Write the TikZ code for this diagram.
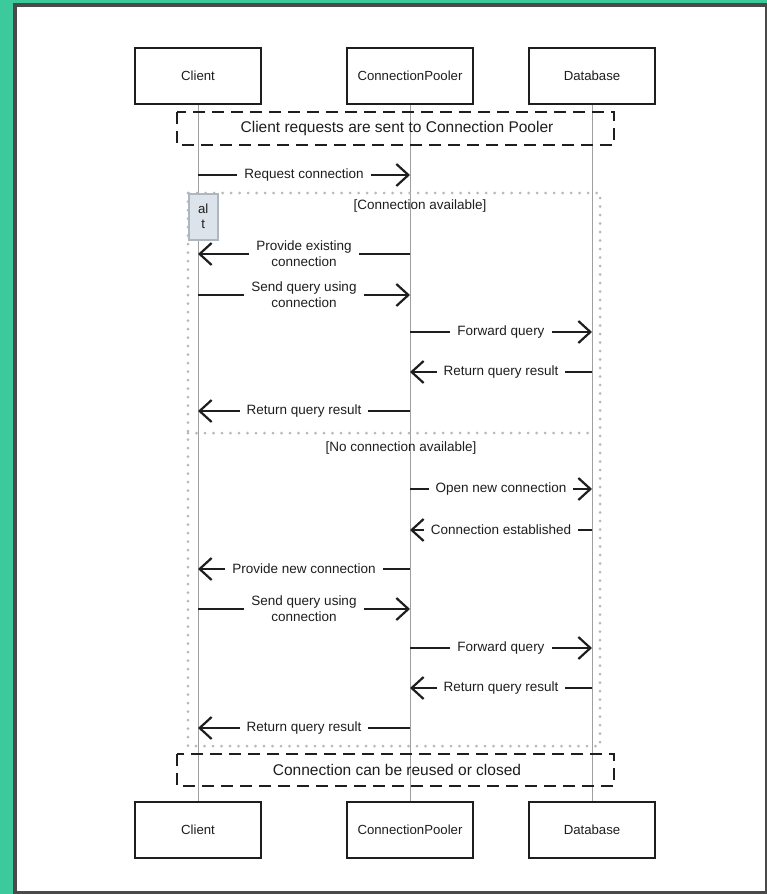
\documentclass[tikz,border=0pt]{standalone}
\usepackage{fontspec}
\setmainfont{Liberation Sans}
\usetikzlibrary{arrows.meta,
                positioning
            }
\definecolor{framegreen}{HTML}{3CC99B}
\definecolor{framegray}{HTML}{4A4A4A}
\definecolor{ink}{HTML}{1E1E1E}
\definecolor{altfill}{HTML}{DDE3EA}
\definecolor{altline}{HTML}{AEB6BF}
\definecolor{dotgray}{HTML}{B8B8B8}

\begin{document}
\begin{tikzpicture}[x=1pt, y=-1pt,
    font=\fontsize{13.2}{15}\selectfont,
    actor/.style={draw=ink, line width=2pt, minimum width=126pt, minimum height=56pt, text=ink},
    lifeline/.style={draw=gray!75, line width=0.8pt},
    notebox/.style={draw=ink, line width=2.4pt, dash pattern=on 12pt off 7pt},
    msg/.style={draw=ink, line width=2.6pt, -{Straight Barb[length=12pt, width=22pt, line width=2.2pt]}},
    msglabel/.style={fill=white, text=ink, inner xsep=7pt, inner ysep=1pt, align=center, font=\fontsize{13.5}{16}\selectfont},
    altframe/.style={draw=dotgray, line width=3pt, line cap=round, dash pattern=on 0pt off 8.5pt}
  ]
                % Frame
                \fill[framegreen] (0,0) rectangle (767,894);
                \fill[framegray] (13,3) rectangle (767,894);
                \fill[white] (17,7) rectangle (765,891);

                % Participants (top)
                \node (client) [actor] at (198,76) {Client};
                \node (pooler) [actor, right=84pt of client] {ConnectionPooler};
                \node (db) [actor, right=54pt of pooler] {Database};

                % Participants (bottom)
                \node (clientB) [actor, below=696pt of client] {Client};
                \node (poolerB) [actor, below=696pt of pooler] {ConnectionPooler};
                \node (dbB) [actor, below=696pt of db] {Database};

                % Lifelines
                \draw[lifeline] (client) -- (clientB);
                \draw[lifeline] (pooler) -- (poolerB);
                \draw[lifeline] (db) -- (dbB);
                \fill[white] (client.north west) rectangle (client.south east);
                \fill[white] (pooler.north west) rectangle (pooler.south east);
                \fill[white] (db.north west) rectangle (db.south east);
                \fill[white] (clientB.north west) rectangle (clientB.south east);
                \fill[white] (poolerB.north west) rectangle (poolerB.south east);
                \fill[white] (dbB.north west) rectangle (dbB.south east);
                \node [actor] at (client) {Client};
                \node [actor] at (pooler) {ConnectionPooler};
                \node [actor] at (db) {Database};
                \node [actor] at (clientB) {Client};
                \node [actor] at (poolerB) {ConnectionPooler};
                \node [actor] at (dbB) {Database};

                % Note on top
                \draw[notebox] (177,112) rectangle (614,145);
                \node (noteTop) [text=ink, font=\fontsize{15.5}{18}\selectfont] at (397,128.5) {Client requests are sent to Connection Pooler};

                \draw[msg] (client |- 0,175) -- node[msglabel] {Request connection} (pooler |- 0,175);

                % Alt fragment
                \draw[altframe] (188,193) rectangle (600,746);
                \draw[altframe] (188,433) -- (592,433);
                \node (altTag) [draw=altline, fill=altfill, line width=1.5pt, minimum width=29pt, minimum height=46pt,
                      align=center, anchor=north west, inner sep=2pt, text=ink] at (188,193) {al\\t};
                \node (guard1) [text=ink, font=\fontsize{13.5}{16}\selectfont] at (420,206) {[Connection available]};
                \node (guard2) [text=ink, font=\fontsize{13.5}{16}\selectfont] at (401,448) {[No connection available]};

                % Connection available
                \draw[msg] (pooler |- 0,254) -- node[msglabel] {Provide existing\\connection} (client |- 0,254);
                \draw[msg] (client |- 0,295) -- node[msglabel] {Send query using\\connection} (pooler |- 0,295);
                \draw[msg] (pooler |- 0,332) -- node[msglabel] {Forward query} (db |- 0,332);
                \draw[msg] (db |- 0,372) -- node[msglabel] {Return query result} (pooler |- 0,372);
                \draw[msg] (pooler |- 0,411) -- node[msglabel] {Return query result} (client |- 0,411);

                % No connection available
                \draw[msg] (pooler |- 0,489) -- node[msglabel] {Open new connection} (db |- 0,489);
                \draw[msg] (db |- 0,530) -- node[msglabel] {Connection established} (pooler |- 0,530);
                \draw[msg] (pooler |- 0,569) -- node[msglabel] {Provide new connection} (client |- 0,569);
                \draw[msg] (client |- 0,609) -- node[msglabel] {Send query using\\connection} (pooler |- 0,609);
                \draw[msg] (pooler |- 0,648) -- node[msglabel] {Forward query} (db |- 0,648);
                \draw[msg] (db |- 0,688) -- node[msglabel] {Return query result} (pooler |- 0,688);
                \draw[msg] (pooler |- 0,728) -- node[msglabel] {Return query result} (client |- 0,728);

                % Note at the end
                \draw[notebox] (177,754) rectangle (614,786);
                \node (noteEnd) [text=ink, font=\fontsize{15.5}{18}\selectfont] at (397,770) {Connection can be reused or closed};
\end{tikzpicture}
\end{document}
